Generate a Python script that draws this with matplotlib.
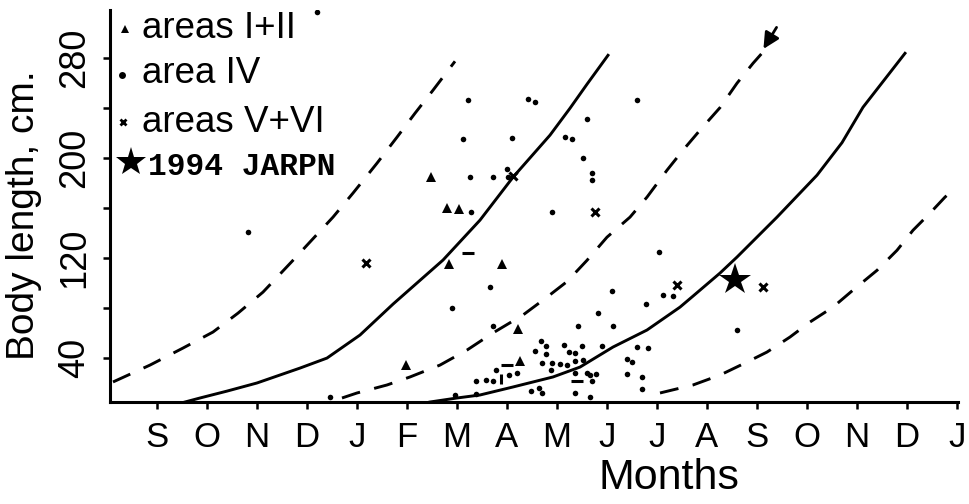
import matplotlib
matplotlib.use("Agg")
import matplotlib.pyplot as plt
from matplotlib import font_manager

# ---------------- data ----------------
month_labels = ["S", "O", "N", "D", "J", "F", "M", "A", "M", "J", "J", "A", "S", "O", "N", "D", "J"]
month_pos = list(range(len(month_labels)))
y_ticks = [40, 80, 120, 160, 200, 240, 280]
y_ticklabels = ["40", "", "120", "", "200", "", "280"]

# growth curves (x = months since September, y = body length cm)
solid1_x = [0.56, 0.86, 1.4, 2.0, 2.86, 3.4, 4.06, 4.72, 5.72, 6.46, 7.12, 7.86, 8.26, 8.6, 9.02]
solid1_y = [4.8, 8.0, 13.5, 20.0, 31.9, 39.9, 58.3, 83.0, 118.2, 150.1, 184.4, 218.0, 239.5, 258.7, 281.8]

solid2_x = [5.46, 6.0, 6.46, 7.12, 7.92, 8.46, 9.12, 9.8, 10.46, 10.72, 11.26, 11.6, 12.4, 13.2, 13.7, 14.12, 14.96]
solid2_y = [4.8, 8.0, 10.4, 16.8, 24.8, 32.7, 48.7, 62.3, 80.6, 89.4, 107.8, 120.6, 152.5, 186.0, 212.0, 240.3, 283.4]

dash1_x = [-0.88, -0.14, 0.52, 1.12, 1.62, 2.12, 2.72, 3.52, 3.92, 4.4, 4.8, 5.16, 5.52, 5.96]
dash1_y = [20.8, 34.3, 47.9, 60.7, 75.8, 92.6, 118.0, 152.5, 171.7, 195.6, 216.4, 235.5, 253.9, 277.0]

dash2_x = [3.7, 4.0, 4.6, 5.06, 5.66, 6.2, 6.72, 7.32, 7.8, 8.2, 8.6, 9.0, 9.46, 9.8, 10.2, 10.52, 10.86, 11.26, 11.6, 11.92, 12.2]
dash2_y = [8.0, 12.0, 18.4, 24.8, 34.3, 46.3, 60.0, 74.3, 88.6, 101.0, 118.0, 136.5, 152.5, 168.5, 190.0, 206.0, 222.0, 240.0, 259.5, 275.4, 288.0]

dash3_x = [10.06, 10.72, 11.26, 11.8, 12.2, 12.66, 13.06, 13.52, 13.92, 14.4, 14.8, 15.12, 15.46, 15.76, 16.0]
dash3_y = [12.0, 18.4, 26.3, 36.7, 44.7, 56.7, 68.7, 80.6, 94.2, 110.0, 126.0, 142.0, 155.7, 168.5, 177.0]

arrow_tail = (12.42, 306.0)
arrow_tip = (12.1, 285.0)

# areas I+II (triangles)
tri_x = [4.98, 5.48, 5.80, 6.04, 5.84, 6.90, 7.22, 7.26]
tri_y = [34.3, 184.4, 159.7, 158.9, 115.0, 115.0, 63.1, 37.5]

# area IV (dots)
dot_x = [1.82, 3.2, 6.22, 7.42, 7.56, 9.6, 8.6, 6.12, 7.1, 8.16, 8.3, 8.52, 8.7, 8.7, 7.0,
         6.26, 6.72, 7.02, 6.28, 7.9, 6.66, 9.1, 5.9, 6.72, 8.42, 9.12, 7.68, 7.78, 7.56, 7.78,
         8.14, 8.24, 8.36, 8.36, 8.5, 8.52, 8.9, 9.4, 9.5, 9.6, 9.82, 6.78, 7.04, 7.2, 6.38,
         6.58, 6.72, 7.7, 7.9, 8.06, 8.2, 7.88, 8.36, 8.6, 8.66, 8.78, 8.7, 9.4, 9.7, 9.7,
         7.48, 7.64, 7.7, 8.36, 8.66, 5.96, 6.38, 8.82, 9.78, 10.12, 10.32, 10.04, 11.6, 3.46]
dot_y = [140.5, 316.2, 245.9, 246.7, 244.3, 245.9, 230.7, 214.8, 215.6, 216.4, 214.8, 199.6, 187.6, 182.0, 190.8,
         184.4, 184.4, 184.4, 156.5, 156.5, 96.6, 93.4, 79.8, 65.5, 65.5, 65.5, 53.5, 49.5, 45.5, 43.1,
         50.3, 44.7, 43.9, 37.5, 49.5, 38.3, 49.5, 39.1, 36.7, 48.7, 47.9, 30.3, 26.3, 27.9, 21.6,
         22.4, 21.6, 35.9, 35.9, 35.1, 34.3, 30.3, 27.9, 27.9, 26.3, 27.1, 21.6, 27.1, 24.8, 15.2,
         13.6, 16.0, 12.0, 12.0, 8.8, 10.4, 11.2, 75.8, 83.0, 90.2, 89.4, 124.6, 62.3, 8.8]

# short dash specks
hdash_x = [6.22, 7.0, 8.4]
hdash_y = [123.8, 34.3, 21.6]
vdash_x = [6.88]
vdash_y = [23.2]

# areas V+VI (crosses)
cross_x = [4.18, 8.76, 7.12, 10.4, 12.12]
cross_y = [115.8, 156.5, 185.2, 98.2, 96.6]

# 1994 JARPN (star)
star_x = [11.56]
star_y = [102.0]

legend_labels = ["areas I+II", "area IV", "areas V+VI", "1994 JARPN"]

# ---------------- fonts ----------------
names = {f.name for f in font_manager.fontManager.ttflist}
narrow = "Liberation Sans Narrow" if "Liberation Sans Narrow" in names else "Liberation Sans"
plt.rcParams["font.family"] = ["Liberation Sans", "DejaVu Sans"]

# ---------------- figure ----------------
W, H = 970, 504
fig = plt.figure(figsize=(W / 100, H / 100), dpi=100)
ax = fig.add_axes([110 / W, 102 / H, 848 / W, 392 / H])
ax.set_xlim(-0.94, 16.02)
ax.set_ylim(4.8, 318)

for s in ["top", "right"]:
    ax.spines[s].set_visible(False)
for s in ["left", "bottom"]:
    ax.spines[s].set_linewidth(2.2)

ax.set_xticks(month_pos)
ax.set_xticklabels(month_labels, fontfamily=narrow, fontsize=25)
ax.set_yticks(y_ticks)
ax.set_yticklabels(y_ticklabels, fontfamily=narrow, fontsize=26, rotation=90, va="center")
ax.tick_params(axis="x", direction="out", length=5, width=1.8, pad=9)
ax.tick_params(axis="y", direction="out", length=5, width=1.8, pad=8)

lw = 2.1
dash = (0, (6.5, 5.0))
ax.plot(solid1_x, solid1_y, color="black", lw=lw, solid_joinstyle="round")
ax.plot(solid2_x, solid2_y, color="black", lw=lw, solid_joinstyle="round")
ax.plot(dash1_x, dash1_y, color="black", lw=lw, linestyle=dash)
ax.plot(dash2_x, dash2_y, color="black", lw=lw, linestyle=dash)
ax.plot(dash3_x, dash3_y, color="black", lw=lw, linestyle=dash)
ax.annotate("", xy=arrow_tip, xytext=arrow_tail,
            arrowprops=dict(arrowstyle="-|>", color="black", lw=2.0, mutation_scale=24))

ax.plot(dot_x, dot_y, "o", color="black", ms=4.0, mew=0)
ax.plot(tri_x, tri_y, "^", color="black", ms=7.5, mew=0)
ax.plot(cross_x, cross_y, "x", color="black", ms=6, mew=2.2)
ax.plot(hdash_x, hdash_y, "_", color="black", ms=8, mew=2.2)
ax.plot(vdash_x, vdash_y, "|", color="black", ms=7, mew=2.2)
ax.plot(star_x, star_y, "*", color="black", ms=24, mew=0)

# ---------------- legend (drawn in axes coordinates) ----------------
tA = ax.transAxes
ax.plot([0.0177], [0.952], "^", color="black", ms=6, mew=0, transform=tA, clip_on=False)
ax.plot([0.0142], [0.834], "o", color="black", ms=5, mew=0, transform=tA, clip_on=False)
ax.plot([0.0153], [0.714], "x", color="black", ms=5, mew=2, transform=tA, clip_on=False)
ax.plot([0.0248], [0.612], "*", color="black", ms=22, mew=0, transform=tA, clip_on=False)
ax.text(0.0377, 0.929, legend_labels[0], transform=tA, fontsize=26.5, va="baseline", ha="left")
ax.text(0.0377, 0.814, legend_labels[1], transform=tA, fontsize=26.5, va="baseline", ha="left")
ax.text(0.0377, 0.689, legend_labels[2], transform=tA, fontsize=26.5, va="baseline", ha="left")
ax.text(0.0448, 0.579, legend_labels[3], transform=tA, fontsize=22.5, va="baseline", ha="left",
        family=["Liberation Mono", "DejaVu Sans Mono"], fontweight="bold")

# axis titles
fig.text(669 / W, 1 - 478 / H, "Months", fontsize=31, ha="center", va="center")
fig.text(24 / W, 1 - 215 / H, "Body length, cm.", fontsize=28, rotation=90, ha="center", va="center")

fig.savefig("out.png", dpi=100)
